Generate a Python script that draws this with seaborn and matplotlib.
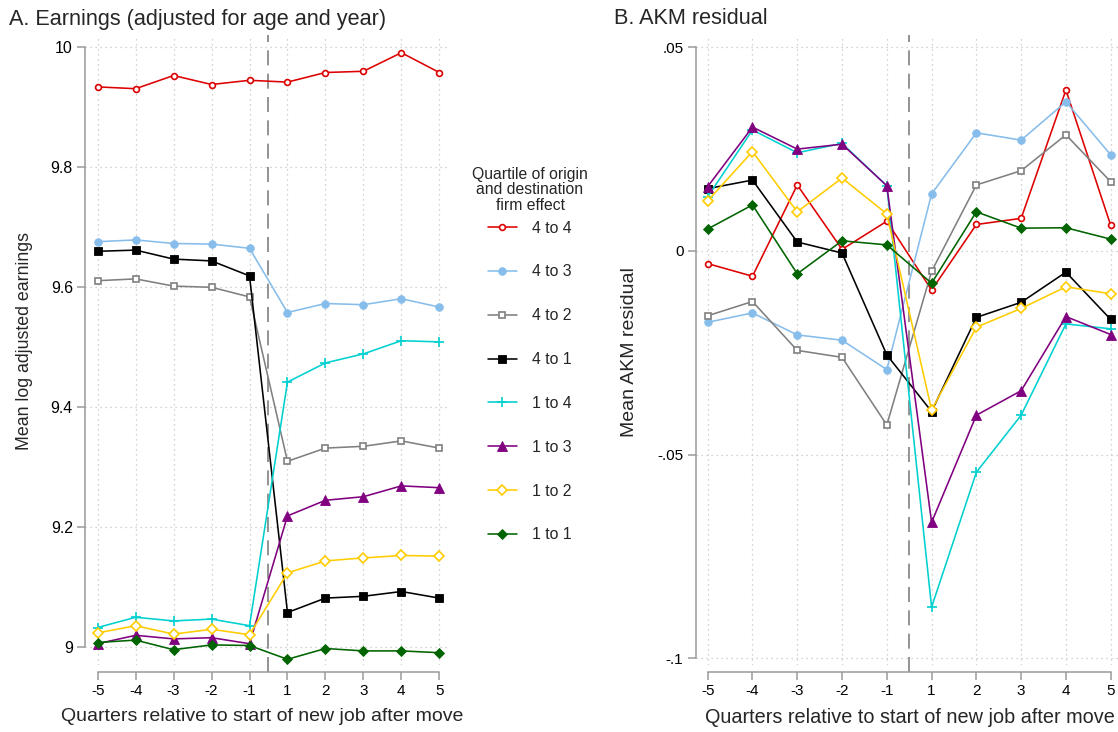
import numpy as np
import pandas as pd
import matplotlib
matplotlib.use("Agg")
import matplotlib.pyplot as plt
import seaborn as sns

# ---------------- data ----------------
quarters = [-5, -4, -3, -2, -1, 1, 2, 3, 4, 5]
groups = ["4 to 4", "4 to 3", "4 to 2", "4 to 1", "1 to 4", "1 to 3", "1 to 2", "1 to 1"]

earn_4to4 = [9.934, 9.931, 9.953, 9.938, 9.945, 9.942, 9.958, 9.960, 9.991, 9.958]
earn_4to3 = [9.676, 9.679, 9.673, 9.672, 9.665, 9.558, 9.573, 9.571, 9.581, 9.567]
earn_4to2 = [9.611, 9.614, 9.602, 9.600, 9.584, 9.310, 9.332, 9.335, 9.344, 9.332]
earn_4to1 = [9.660, 9.662, 9.647, 9.644, 9.619, 9.058, 9.082, 9.085, 9.093, 9.082]
earn_1to4 = [9.033, 9.050, 9.044, 9.047, 9.036, 9.442, 9.474, 9.489, 9.511, 9.509]
earn_1to3 = [9.006, 9.020, 9.014, 9.016, 9.006, 9.219, 9.245, 9.251, 9.269, 9.266]
earn_1to2 = [9.024, 9.036, 9.022, 9.030, 9.021, 9.124, 9.144, 9.149, 9.153, 9.152]
earn_1to1 = [9.008, 9.012, 8.996, 9.004, 9.003, 8.980, 8.998, 8.994, 8.994, 8.991]

akm_4to4 = [-0.0031, -0.0062, 0.0162, 0.0004, 0.0073, -0.0096, 0.0065, 0.0080, 0.0395, 0.0063]
akm_4to3 = [-0.0175, -0.0152, -0.0206, -0.0219, -0.0291, 0.0140, 0.0290, 0.0272, 0.0366, 0.0236]
akm_4to2 = [-0.0159, -0.0124, -0.0244, -0.0261, -0.0427, -0.0050, 0.0162, 0.0197, 0.0285, 0.0170]
akm_4to1 = [0.0153, 0.0174, 0.0022, -0.0005, -0.0255, -0.0394, -0.0163, -0.0126, -0.0052, -0.0168]
akm_1to4 = [0.0133, 0.0297, 0.0241, 0.0264, 0.0160, -0.0874, -0.0543, -0.0403, -0.0179, -0.0191]
akm_1to3 = [0.0158, 0.0304, 0.0250, 0.0262, 0.0160, -0.0666, -0.0403, -0.0343, -0.0161, -0.0205]
akm_1to2 = [0.0123, 0.0244, 0.0096, 0.0179, 0.0091, -0.0390, -0.0187, -0.0141, -0.0088, -0.0105]
akm_1to1 = [0.0054, 0.0113, -0.0056, 0.0025, 0.0015, -0.0079, 0.0096, 0.0056, 0.0057, 0.0029]

earn_ticks = [9, 9.2, 9.4, 9.6, 9.8, 10]
earn_ticklabels = ["9", "9.2", "9.4", "9.6", "9.8", "10"]
akm_ticks = [-0.1, -0.05, 0, 0.05]
akm_ticklabels = ["-.1", "-.05", "0", ".05"]

earn_series = [earn_4to4, earn_4to3, earn_4to2, earn_4to1, earn_1to4, earn_1to3, earn_1to2, earn_1to1]
akm_series = [akm_4to4, akm_4to3, akm_4to2, akm_4to1, akm_1to4, akm_1to3, akm_1to2, akm_1to1]

# ---------------- styles ----------------
colors = ["#dd0000", "#87bdeb", "#808080", "#000000", "#00d0d0", "#800080", "#ffcc00", "#006400"]
markers = ["o", "o", "s", "s", "+", "^", "D", "D"]
msizes = [4.2, 5.5, 4.2, 5.8, 7.0, 6.5, 5.0, 5.5]
hollow = [True, False, True, False, False, False, True, False]

sns.set_theme(style="white")
plt.rcParams["font.family"] = ["Liberation Sans", "DejaVu Sans"]
plt.rcParams["lines.solid_capstyle"] = "round"

W, H = 1118, 732
fig = plt.figure(figsize=(W / 100, H / 100), dpi=100)
fig.patch.set_facecolor("white")

pos = np.arange(len(quarters))


def px_ax(left, right, top, bottom):
    return fig.add_axes([left / W, 1 - bottom / H, (right - left) / W, (bottom - top) / H])


ax1 = px_ax(85, 448, 35, 665)
ax2 = px_ax(695.7, 1121, 35, 665)

long = []
for g, e, a in zip(groups, earn_series, akm_series):
    for q, p, ev, av in zip(quarters, pos, e, a):
        long.append({"group": g, "quarter": q, "pos": p, "earn": ev, "akm": av})
df = pd.DataFrame(long)

gridc = "#c4c4c4"
spinec = "#9a9a9a"

for ax, col, tfs in [(ax1, "earn", 11.4), (ax2, "akm", 11.0)]:
    ax.set_facecolor("white")
    for i, g in enumerate(groups):
        sub = df[df["group"] == g]
        sns.lineplot(
            data=sub, x="pos", y=col, ax=ax, color=colors[i],
            marker=markers[i], markersize=msizes[i],
            markerfacecolor=("white" if hollow[i] else colors[i]),
            markeredgecolor=colors[i],
            markeredgewidth=(1.2 if (hollow[i] or markers[i] == "+") else 0.6),
            linewidth=1.15, label=g, legend=False, zorder=3 + i,
            errorbar=None,
        )
    ax.set_xticks(pos)
    ax.set_xticklabels([str(q) for q in quarters])
    ax.grid(True, color=gridc, linestyle=(0, (1, 3)), linewidth=0.9)
    ax.set_axisbelow(True)
    for s in ["top", "right"]:
        ax.spines[s].set_visible(False)
    for s in ["left", "bottom"]:
        ax.spines[s].set_color(spinec)
        ax.spines[s].set_linewidth(1.1)
    ax.spines["bottom"].set_position(("outward", 5.0))
    ax.spines["bottom"].set_bounds(pos[0], pos[-1])
    ax.tick_params(axis="both", length=5.8, width=1.1, color=spinec,
                   labelsize=tfs, pad=3, labelcolor="black",
                   bottom=True, left=True)
    ax.tick_params(axis="x", labelsize=11.0)
    ax.axvline((pos[4] + pos[5]) / 2, ymin=-7 / 630, ymax=1.0, color="#808080",
               lw=1.2, ls=(0, (9, 5)), clip_on=False, zorder=2)

ax1.set_xlim(-0.334, 9.229)
ax1.set_ylim(8.9705, 10.0205)
ax1.set_yticks(earn_ticks)
ax1.set_yticklabels(earn_ticklabels)
ax1.spines["left"].set_bounds(earn_ticks[0], earn_ticks[-1])
ax1.set_ylabel("Mean log adjusted earnings", fontsize=12.8)
ax1.set_xlabel("Quarters relative to start of new job after move", fontsize=14.0)
ax1.yaxis.set_label_coords((33 - 85) / 363, 0.515)
ax1.xaxis.set_label_coords((262 - 85) / 363, (665 - 708) / 630)

ax2.set_xlim(-0.268, 9.23)
ax2.set_ylim(-0.1016, 0.0530)
ax2.set_yticks(akm_ticks)
ax2.set_yticklabels(akm_ticklabels)
ax2.spines["left"].set_bounds(akm_ticks[0], akm_ticks[-1])
ax2.set_ylabel("Mean AKM residual", fontsize=14.0)
ax2.set_xlabel("Quarters relative to start of new job after move", fontsize=14.3)
ax2.yaxis.set_label_coords((638 - 695.7) / 425.3, (665 - 352) / 630)
ax2.xaxis.set_label_coords((909.5 - 695.7) / 425.3, (665 - 708) / 630)

fig.text(9 / W, 1 - 19 / H, "A. Earnings (adjusted for age and year)", fontsize=15.6,
         ha="left", va="center")
fig.text(614 / W, 1 - 19 / H, "B. AKM residual", fontsize=15.6, ha="left", va="center")

# legend (title drawn separately for exact spacing)
fig.text(530 / W, 1 - 167.5 / H, "Quartile of origin\nand destination\nfirm effect",
         fontsize=11.3, ha="center", va="top", multialignment="center",
         linespacing=1.0)
handles, labels = ax1.get_legend_handles_labels()
leg = fig.legend(handles, labels, loc="center",
                 bbox_to_anchor=(530 / W, 1 - 381.5 / H), frameon=False,
                 fontsize=11.4, handlelength=1.82,
                 handletextpad=0.98, labelspacing=1.82, borderpad=0,
                 borderaxespad=0)

fig.savefig("out.png", dpi=100, facecolor="white")
